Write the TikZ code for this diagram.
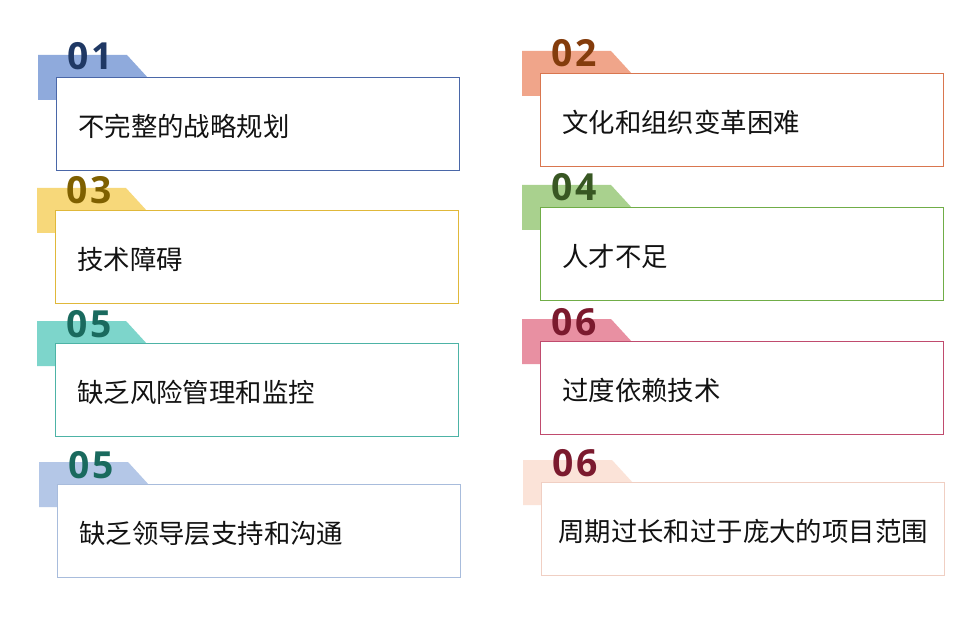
\documentclass[tikz,border=0pt]{standalone}
\usepackage{fontspec}
\newfontfamily\cjk{Noto Sans CJK SC}
\newfontfamily\numfont{Open Sans}[LetterSpace=8]
\usepackage{tikz}
\usetikzlibrary{positioning,backgrounds}

\definecolor{tabA}{HTML}{8FAADC}\definecolor{lineA}{HTML}{4A67A8}\definecolor{numA}{HTML}{1F3864}
\definecolor{tabB}{HTML}{F0A58A}\definecolor{lineB}{HTML}{D9764F}\definecolor{numB}{HTML}{843C0C}
\definecolor{tabC}{HTML}{F7D87A}\definecolor{lineC}{HTML}{E0B83A}\definecolor{numC}{HTML}{7F6000}
\definecolor{tabD}{HTML}{A9D18E}\definecolor{lineD}{HTML}{70AD47}\definecolor{numD}{HTML}{385723}
\definecolor{tabE}{HTML}{7DD5CB}\definecolor{lineE}{HTML}{4DB3A6}\definecolor{numE}{HTML}{1A6A5E}
\definecolor{tabF}{HTML}{E890A2}\definecolor{lineF}{HTML}{C04B6E}\definecolor{numF}{HTML}{7B1A2E}
\definecolor{tabG}{HTML}{B4C7E7}\definecolor{lineG}{HTML}{A8BCDC}
\definecolor{tabH}{HTML}{FBE3D8}\definecolor{lineH}{HTML}{F0CFC3}

\begin{document}
\begin{tikzpicture} [
	x=0.75pt,y=-0.75pt,
	cardbox/.style={
		rectangle,anchor=north west,inner sep=0pt,line width=0.75pt,
		minimum width=302pt,minimum height=69.5pt,fill=white
	},
	cardnum/.style={
		anchor=base west,inner sep=0pt,font=\numfont\bfseries\fontsize{28}{28}\selectfont
	},
	cardtext/.style={
		anchor=west,inner sep=0pt,text=black!93,font=\cjk\fontsize{19.8}{19.8}\selectfont
	},
	tab/.style={
		insert path={
			([shift={(-18,-22)}]#1.north west) -- ([shift={(71,-22)}]#1.north west)
			-- ([shift={(93,2)}]#1.north west) -- ([shift={(93,23)}]#1.north west)
			-- ([shift={(-18,23)}]#1.north west) -- cycle
		}
	}
]
\useasboundingbox (0,0) rectangle (979,631);

\node [cardbox,draw=lineA]	(boxA) at (56,77)		{};
\node [cardbox,draw=lineB]	(boxB) at (540,73)		{};
\node [cardbox,draw=lineC]	(boxC) at (55,210)		{};
\node [cardbox,draw=lineD]	(boxD) at (540,207)		{};
\node [cardbox,draw=lineE]	(boxE) at (55,343)		{};
\node [cardbox,draw=lineF]	(boxF) at (540,341)		{};
\node [cardbox,draw=lineG]	(boxG) at (57,484)		{};
\node [cardbox,draw=lineH]	(boxH) at (541,482)		{};

\begin{scope}[on background layer]
\fill [white] (0,0) rectangle (979,631);
\fill [tabA,tab=boxA];
\fill [tabB,tab=boxB];
\fill [tabC,tab=boxC];
\fill [tabD,tab=boxD];
\fill [tabE,tab=boxE];
\fill [tabF,tab=boxF];
\fill [tabG,tab=boxG];
\fill [tabH,tab=boxH];
\end{scope}

\node [cardnum,text=numA]	(numA) at ([shift={(11,-7)}]boxA.north west)	{01};
\node [cardnum,text=numB]	(numB) at ([shift={(11,-6)}]boxB.north west)	{02};
\node [cardnum,text=numC]	(numC) at ([shift={(11,-6)}]boxC.north west)	{03};
\node [cardnum,text=numD]	(numD) at ([shift={(11,-6)}]boxD.north west)	{04};
\node [cardnum,text=numE]	(numE) at ([shift={(11,-6)}]boxE.north west)	{05};
\node [cardnum,text=numF]	(numF) at ([shift={(11,-6)}]boxF.north west)	{06};
\node [cardnum,text=numE]	(numG) at ([shift={(11,-6)}]boxG.north west)	{05};
\node [cardnum,text=numF]	(numH) at ([shift={(11,-6)}]boxH.north west)	{06};

\node [cardtext]	(textA) at ([shift={(22,3)}]boxA.west)	{不完整的战略规划};
\node [cardtext]	(textB) at ([shift={(22,3)}]boxB.west)	{文化和组织变革困难};
\node [cardtext]	(textC) at ([shift={(22,3)}]boxC.west)	{技术障碍};
\node [cardtext]	(textD) at ([shift={(22,3)}]boxD.west)	{人才不足};
\node [cardtext]	(textE) at ([shift={(22,3)}]boxE.west)	{缺乏风险管理和监控};
\node [cardtext]	(textF) at ([shift={(22,3)}]boxF.west)	{过度依赖技术};
\node [cardtext]	(textG) at ([shift={(22,3)}]boxG.west)	{缺乏领导层支持和沟通};
\node [cardtext]	(textH) at ([shift={(17,3)}]boxH.west)	{周期过长和过于庞大的项目范围};
\end{tikzpicture}
\end{document}
